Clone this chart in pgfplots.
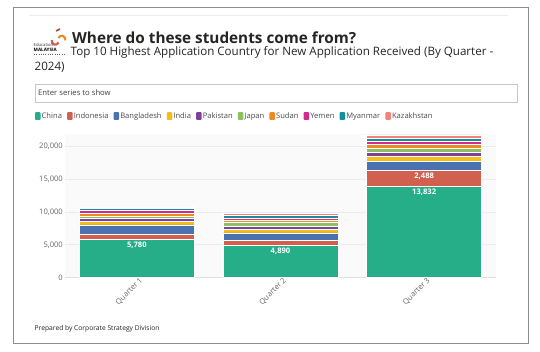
\documentclass[border=0pt]{standalone}
\usepackage{pgfplots}
\pgfplotsset{compat=1.18}
\usepackage{fontspec}
\setmainfont{Open Sans}
\definecolor{cChina}{HTML}{25AE87}
\definecolor{cIndo}{HTML}{D2604F}
\definecolor{cBang}{HTML}{4B72B0}
\definecolor{cIndia}{HTML}{F4BE1A}
\definecolor{cPak}{HTML}{814098}
\definecolor{cJap}{HTML}{8DC05F}
\definecolor{cSud}{HTML}{EE8A25}
\definecolor{cYem}{HTML}{D52A8D}
\definecolor{cMya}{HTML}{13909E}
\definecolor{cKaz}{HTML}{F4817C}
\definecolor{txt}{HTML}{252423}
\definecolor{tick}{HTML}{666666}
\begin{document}
\begin{tikzpicture}
\path[use as bounding box, fill=white] (0,0) rectangle (540bp,-352bp);
\begin{scope}[x=1bp,y=-1bp]
\draw[color=black!45, line width=0.8bp] (13,7) rectangle (528,343);
\draw[color=black!7, line width=0.6bp] (29,15) -- (508,15);
% logo
\draw[cIndo, line width=2.2bp] (52,40) arc[start angle=200, end angle=20, radius=3.5];
\draw[cSud, line width=2.2bp] (58.5,38) arc[start angle=200, end angle=380, radius=3.5];
\draw[cIndo!80!black, line width=1.6bp] (56,31) -- (60,29);
\node[anchor=west, inner sep=0, font=\fontsize{4.2bp}{5bp}\selectfont, text=black!80] at (33.5,45) {Education};
\node[anchor=west, inner sep=0, font=\bfseries\fontsize{4.6bp}{5bp}\selectfont, text=black] at (33.5,50) {MALAYSIA};
\draw[black!60, line width=0.3bp, dotted] (34,54) -- (65,54);
% titles
\node[anchor=west, inner sep=0, font=\bfseries\fontsize{15.3bp}{17bp}\selectfont, text=txt] at (72,37.5) {Where do these students come from?};
\node[anchor=west, inner sep=0, font=\fontsize{11.6bp}{13bp}\selectfont, text=txt] at (70.5,52.5) {Top 10 Highest Application Country for New Application Received (By Quarter -};
\node[anchor=west, inner sep=0, font=\fontsize{11.6bp}{13bp}\selectfont, text=txt] at (34.5,67) {2024)};
% search box
\draw[color=black!22, line width=0.6bp] (35,84) rectangle (517,102);
\node[anchor=west, inner sep=0, font=\fontsize{7.7bp}{9bp}\selectfont, text=black!75] at (38,93) {Enter series to show};
% footer
\node[anchor=west, inner sep=0, font=\fontsize{6.7bp}{8bp}\selectfont, text=txt] at (34.5,329) {Prepared by Corporate Strategy Division};
\end{scope}
\begin{axis}[
  at={(65bp,-277.7bp)}, anchor=south west,
  width=431bp, height=143.7bp, scale only axis,
  ybar stacked, bar width=115bp,
  xmin=-0.5, xmax=2.5, ymin=0, ymax=21800,
  xtick={0,1,2}, xticklabels={Quarter 1,Quarter 2,Quarter 3},
  ytick={0,5000,10000,15000,20000},
  yticklabels={0,{5,000},{10,000},{15,000},{20,000}},
  scaled y ticks=false,
  /pgf/number format/assume math mode=true,
  tick label style={font=\fontsize{7.6bp}{9bp}\selectfont, text=tick},
  x tick label style={rotate=45, anchor=north east, inner sep=1bp, xshift=3bp},
  y tick label style={inner sep=1bp, xshift=-1bp},
  major tick length=0pt,
  axis background/.style={fill=black!2},
  ymajorgrids, grid style={color=black!8, line width=0.5bp},
  axis x line*=bottom, axis y line*=left,
  y axis line style={draw=none},
  x axis line style={color=black!12, line width=0.5bp},
  clip=false,
  legend columns=-1,
  legend style={at={(-0.0696,1.125)}, anchor=west, draw=none, fill=none,
    font=\fontsize{7.6bp}{9bp}\selectfont, text=black!70,
    inner sep=0pt, outer sep=0pt,
    /tikz/every even column/.append style={column sep=3.9bp},
    nodes={inner xsep=1.2bp, inner ysep=0bp}},
  legend image code/.code={\path[fill, draw=none, rounded corners=0.8bp] (0bp,-3.8bp) rectangle (5.5bp,3.8bp);},
  every axis plot/.append style={draw=white, line width=0.6bp},
]
\addplot[fill=cChina] coordinates {(0,5780) (1,4890) (2,13832)};
\addplot[fill=cIndo] coordinates {(0,860) (1,760) (2,2488)};
\addplot[fill=cBang] coordinates {(0,1370) (1,1160) (2,1300)};
\addplot[fill=cIndia] coordinates {(0,500) (1,560) (2,800)};
\addplot[fill=cPak] coordinates {(0,450) (1,450) (2,600)};
\addplot[fill=cJap] coordinates {(0,350) (1,560) (2,550)};
\addplot[fill=cSud] coordinates {(0,500) (1,300) (2,600)};
\addplot[fill=cYem] coordinates {(0,350) (1,350) (2,550)};
\addplot[fill=cMya] coordinates {(0,300) (1,400) (2,400)};
\addplot[fill=cKaz] coordinates {(0,250) (1,300) (2,550)};
\legend{China,Indonesia,Bangladesh,India,Pakistan,Japan,Sudan,Yemen,Myanmar,Kazakhstan}
\coordinate (lA) at (rel axis cs:0.16667,0.26514);
\coordinate (lB) at (rel axis cs:0.5,0.22431);
\coordinate (lC) at (rel axis cs:0.83333,0.63450);
\coordinate (lD) at (rel axis cs:0.83333,0.74862);
\end{axis}
\tikzset{vlab/.style={anchor=north, text=white, font=\bfseries\fontsize{7.6bp}{9bp}\selectfont, inner sep=2.5bp}}
\node[vlab] at (lA) {5,780};
\node[vlab] at (lB) {4,890};
\node[vlab] at (lC) {13,832};
\node[vlab] at (lD) {2,488};
\end{tikzpicture}
\end{document}
